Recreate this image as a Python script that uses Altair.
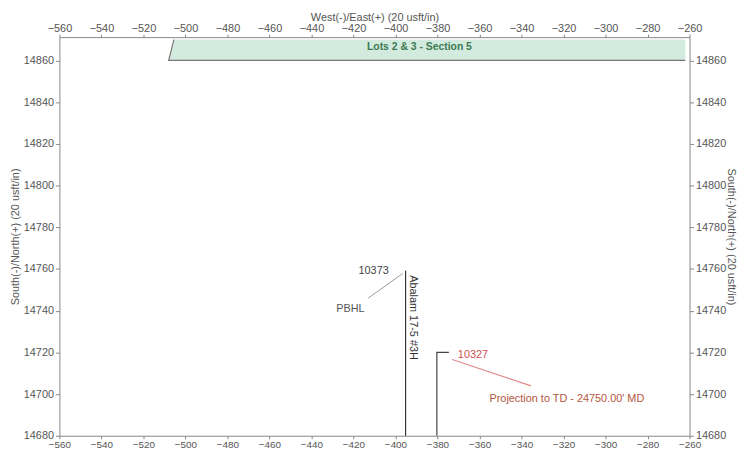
import altair as alt
import pandas as pd

# ---------------- data ----------------
x_ticks = list(range(-560, -259, 20))
y_ticks = list(range(14680, 14861, 20))

# Wellbore Abalam 17-5 #3H
well1_x = [-395.2, -395.2]
well1_y = [14680, 14759.2]
# PBHL leader line
pbhl_x = [-413.0, -396.6]
pbhl_y = [14746.0, 14757.8]
# second path
well2_x = [-380.3, -380.3, -374.6]
well2_y = [14680, 14720, 14720]
# projection leader (red)
proj_x = [-373.0, -335.5]
proj_y = [14716.6, 14703.9]
# lease band (Lots 2 & 3 - Section 5)
band_x = [-508.0, -505.5, -262.0]
band_y = [14860, 14860, 14860]
band_y2 = [14860, 14870, 14870]
edge_x = [-505.5, -508.0, -262.0]
edge_y = [14870, 14860, 14860]

lbl_10373 = ("10373", -403.2, 14759.2)
lbl_pbhl = ("PBHL", -421.5, 14740.9)
lbl_well = ("Abalam 17-5 #3H", -391.6, 14736.7)
lbl_10327 = ("10327", -363.1, 14718.9)
lbl_proj = ("Projection to TD - 24750.00' MD", -318.4, 14697.8)
lbl_band = ("Lots 2 & 3 - Section 5", -388.6, 14866.4)

FONT = "Liberation Sans"
xs = alt.Scale(domain=[-560, -260], nice=False, zero=False)
ys = alt.Scale(domain=[14680, 14871.2], nice=False, zero=False)

axis_common = dict(
    labelFontSize=11, labelColor="#555555", labelFont=FONT,
    tickColor="#888888", domainColor="#888888", tickSize=4,
    labelPadding=2, labelFlush=False, labelOverlap=False, grid=False,
    titleFont=FONT, titleFontSize=11, titleFontWeight="normal",
    titleColor="#555555",
)
bottom_common = dict(axis_common, tickSize=3, labelPadding=1, labelFontSize=10)
top_common = dict(axis_common, tickSize=3, labelPadding=1)

x_bottom = alt.Axis(orient="bottom", values=x_ticks, title=None, **bottom_common)
x_top = alt.Axis(orient="top", values=x_ticks, title="West(-)/East(+) (20 usft/in)",
                 titlePadding=0, **top_common)
y_left = alt.Axis(orient="left", values=y_ticks, title="South(-)/North(+) (20 usft/in)",
                  titlePadding=3, format="d", **axis_common)
y_right = alt.Axis(orient="right", values=y_ticks, title="South(-)/North(+) (20 usft/in)",
                   titlePadding=0, format="d", **axis_common)


def df_line(xv, yv):
    return pd.DataFrame({"x": xv, "y": yv, "o": list(range(len(xv)))})


band_df = pd.DataFrame({"x": band_x, "y": band_y, "y2": band_y2})
band = alt.Chart(band_df).mark_area(color="#d3eadf", opacity=1).encode(
    x=alt.X("x:Q", scale=xs, axis=x_bottom),
    y=alt.Y("y:Q", scale=ys, axis=y_left),
    y2="y2:Q",
)

edge = alt.Chart(df_line(edge_x, edge_y)).mark_line(color="#777777", strokeWidth=1.2).encode(
    x=alt.X("x:Q", scale=xs, axis=x_top),
    y=alt.Y("y:Q", scale=ys, axis=y_right),
    order="o:Q",
)


def line_layer(xv, yv, color, width=1.0):
    return alt.Chart(df_line(xv, yv)).mark_line(color=color, strokeWidth=width).encode(
        x=alt.X("x:Q", scale=xs, axis=None),
        y=alt.Y("y:Q", scale=ys, axis=None),
        order="o:Q",
    )


def text_layer(lbl, color, align="center", angle=0, size=11, weight="normal"):
    t, xv, yv = lbl
    d = pd.DataFrame({"x": [xv], "y": [yv], "t": [t]})
    return alt.Chart(d).mark_text(
        color=color, align=align, baseline="middle", angle=angle,
        fontSize=size, font=FONT, fontWeight=weight,
    ).encode(
        x=alt.X("x:Q", scale=xs, axis=None),
        y=alt.Y("y:Q", scale=ys, axis=None),
        text="t:N",
    )


chart = alt.layer(
    band,
    edge,
    line_layer(well1_x, well1_y, "#333333", 1.2),
    line_layer(pbhl_x, pbhl_y, "#999999", 1.0),
    line_layer(well2_x, well2_y, "#444444", 1.2),
    line_layer(proj_x, proj_y, "#e28a8a", 1.2),
    text_layer(lbl_10373, "#444444", align="right"),
    text_layer(lbl_pbhl, "#555555"),
    text_layer(lbl_well, "#333333", angle=90),
    text_layer(lbl_10327, "#d05050"),
    text_layer(lbl_proj, "#b5553e"),
    text_layer(lbl_band, "#3d7a52", size=10.5, weight="bold"),
).properties(
    width=637,
    height=403,
    autosize=alt.AutoSizeParams(type="none"),
    padding={"left": 52, "top": 27, "right": 50, "bottom": 15},
    background="white",
).configure_view(stroke=None)

chart.save("out.html", embed_options={"renderer": "svg", "actions": False})
